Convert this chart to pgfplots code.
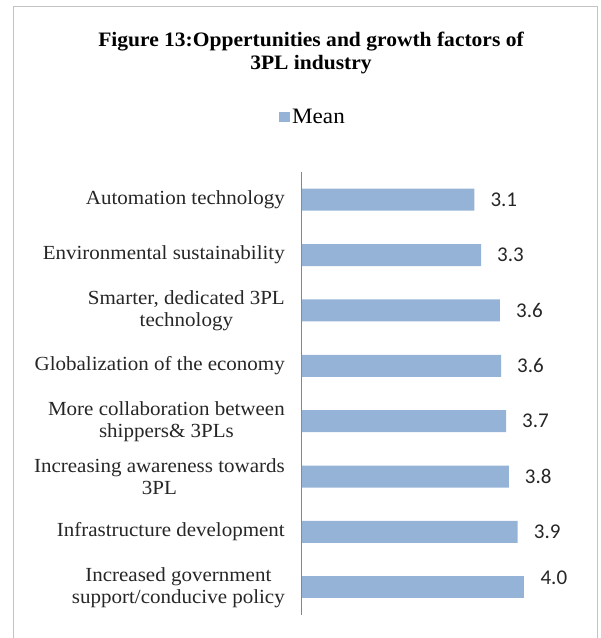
\documentclass[border=0pt]{standalone}
\usepackage{pgfplots}
\pgfplotsset{compat=1.18}
\usepackage{fontspec}
\setmainfont{Liberation Serif}[FakeStretch=1.05]
\newfontfamily\labfont{Carlito}
\definecolor{barblue}{RGB}{149,179,215}
\definecolor{axgray}{RGB}{134,134,134}
\definecolor{framegray}{RGB}{195,195,195}
\begin{document}
\begin{tikzpicture}[x=1pt,y=1pt]
\useasboundingbox (0,0) rectangle (601,638);
\draw[framegray, line width=1pt] (13,-5) -- (13,631) -- (597,631) -- (597,-5);
\node[anchor=base, inner sep=0pt, font=\fontsize{20.5}{22}\selectfont\bfseries] at (311,591) {Figure 13:Oppertunities and growth factors of};
\node[anchor=base, inner sep=0pt, font=\fontsize{20.5}{22}\selectfont\bfseries] at (311,568) {3PL industry};
\begin{axis}[
  at={(302pt,23pt)}, anchor=south west,
  scale only axis, width=272.4pt, height=443pt,
  xmin=0, xmax=4.9, ymin=-0.5, ymax=7.5, y dir=reverse,
  axis x line=none, axis y line*=left,
  xtick=\empty,
  y axis line style={draw=axgray, line width=1pt},
  major tick length=0pt,
  ytick={0,1,2,3,4,5,6,7},
  yticklabels={Automation technology, Environmental sustainability, {Smarter, dedicated 3PL\\technology}, Globalization of the economy, {More collaboration between\\shippers\& 3PLs}, {Increasing awareness towards\\3PL}, Infrastructure development, {Increased government\\support/conducive policy}},
  yticklabel style={font=\fontsize{20}{22}\selectfont, align=center, inner sep=0pt, anchor=east, xshift=-17pt, text=black!85},
  xbar, bar width=22pt,
  point meta=explicit symbolic,
  nodes near coords,
  nodes near coords style={font=\labfont\fontsize{21}{22}\selectfont, text=black!85, inner sep=0pt, anchor=west, xshift=16pt},
  legend style={at={(0.0404,1.124)}, anchor=center, draw=none, fill=none, font=\fontsize{22}{24}\selectfont, inner sep=0pt},
  legend image code/.code={\fill[barblue] (0pt,-5pt) rectangle (11pt,5pt);},
]
\addplot[fill=barblue, draw=none, bar shift=0pt] coordinates {
  (3.10,0) [3.1]
  (3.22,1) [3.3]
  (3.56,2) [3.6]
  (3.58,3) [3.6]
  (3.67,4) [3.7]
  (3.72,5) [3.8]
  (3.88,6) [3.9]
};
\addlegendentry{Mean}
\addplot[fill=barblue, draw=none, bar shift=0pt, forget plot, nodes near coords style={yshift=10pt}] coordinates {
  (4.00,7) [4.0]
};
\end{axis}
\end{tikzpicture}
\end{document}
